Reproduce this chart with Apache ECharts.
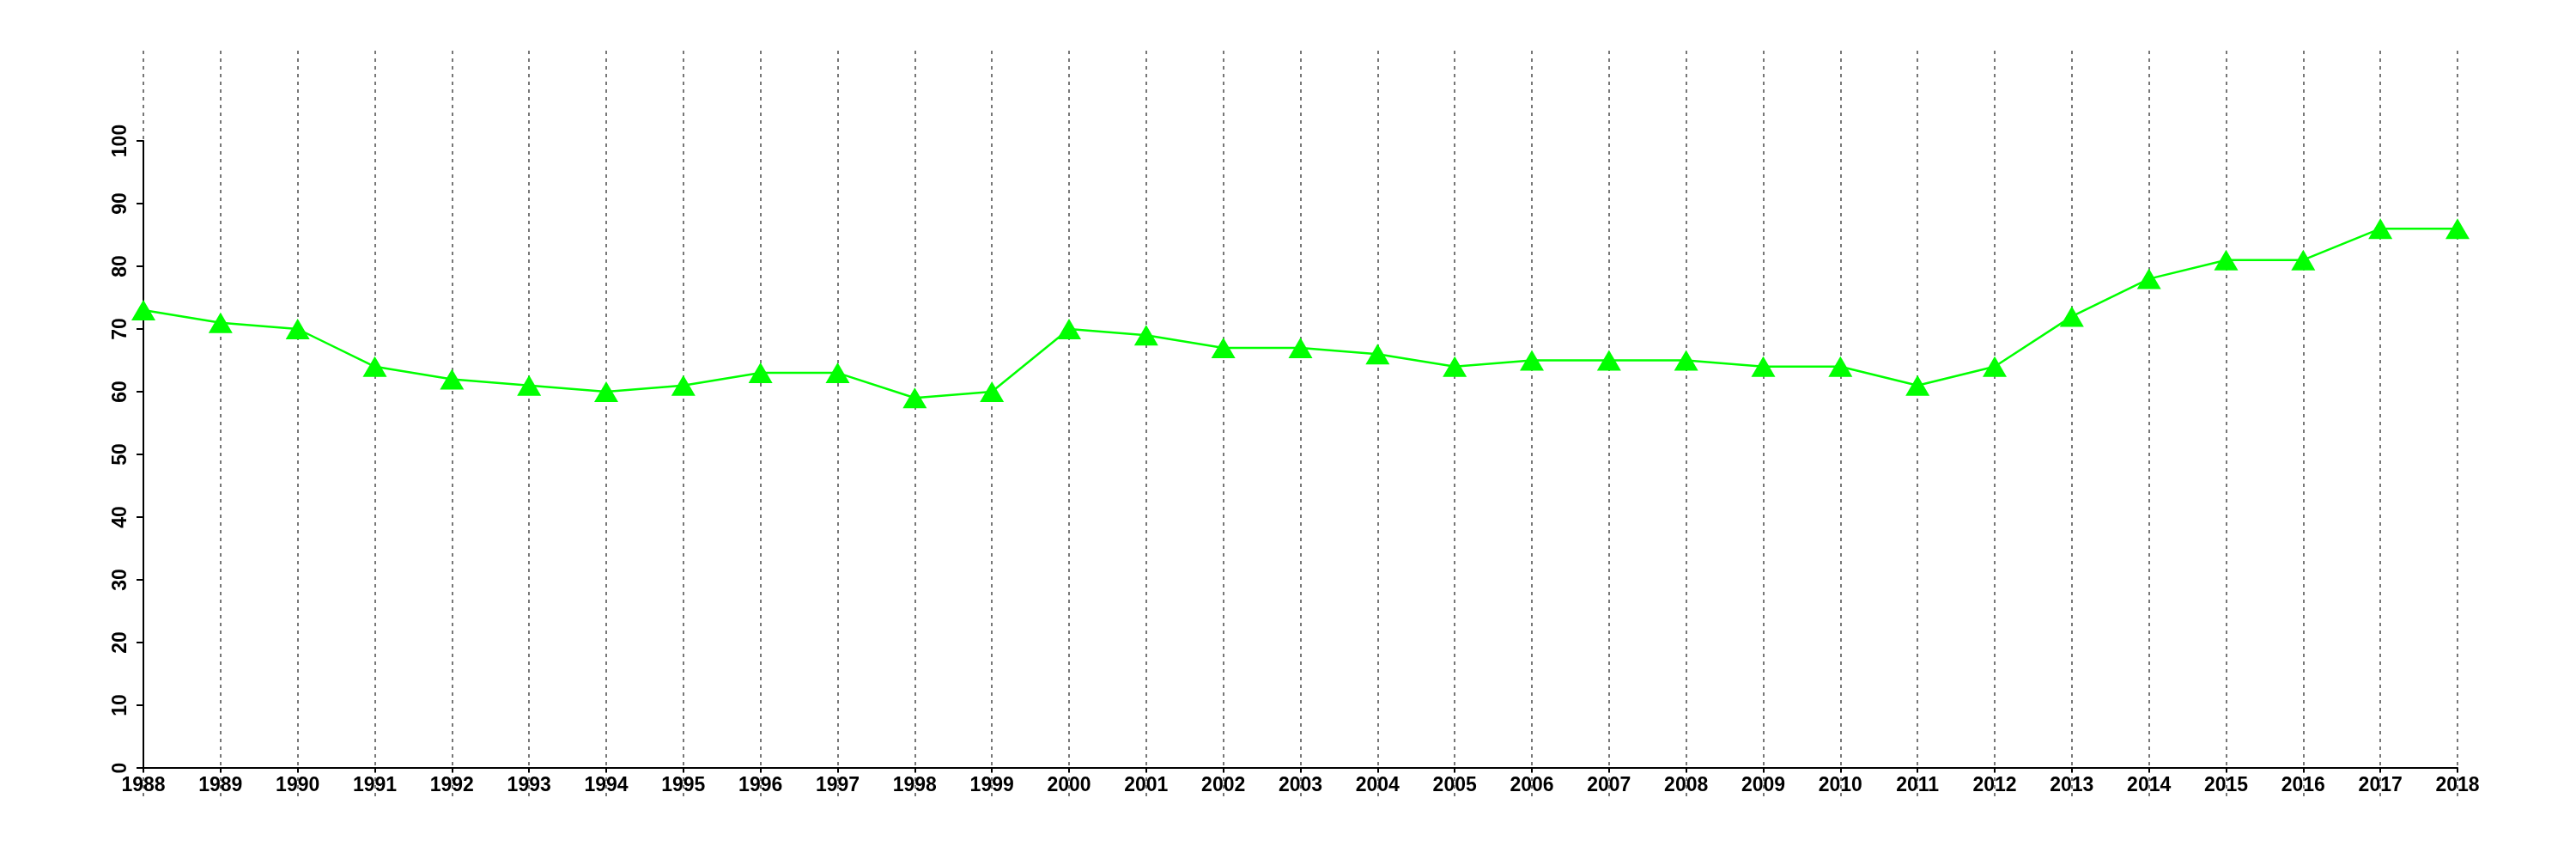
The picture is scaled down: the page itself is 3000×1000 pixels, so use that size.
<!DOCTYPE html>
<html>
<head>
<meta charset="utf-8">
<script src="https://cdn.jsdelivr.net/npm/echarts@6/dist/echarts.min.js"></script>
<style>
html,body{margin:0;padding:0;background:#fff;}
#chart{width:3000px;height:1000px;}
</style>
</head>
<body>
<div id="chart"></div>
<script>
const years = ['1988','1989','1990','1991','1992','1993','1994','1995','1996','1997','1998','1999','2000','2001','2002','2003','2004','2005','2006','2007','2008','2009','2010','2011','2012','2013','2014','2015','2016','2017','2018'];
const values = [73,71,70,64,62,61,60,61,63,63,59,60,70,69,67,67,66,64,65,65,65,64,64,61,64,72,78,81,81,86,86];
const yMin = 0, yMax = 100, yStep = 10;

const font = 'Liberation Sans';
const chart = echarts.init(document.getElementById('chart'));
chart.setOption({
  animation: false,
  backgroundColor: '#fff',
  grid: [
    {left: 167, right: 138, top: 164, bottom: 106},
    {left: 167, right: 138, top: 59, bottom: 73}
  ],
  xAxis: [
    {
      type: 'category', data: years, boundaryGap: false, gridIndex: 0,
      axisLine: {lineStyle: {color: '#000', width: 2}},
      axisTick: {show: true, length: 5, lineStyle: {color: '#000', width: 2}},
      axisLabel: {color: '#000', fontFamily: font, fontSize: 23, fontWeight: 'bold', margin: 9, interval: 0},
      splitLine: {show: false}
    },
    {
      type: 'category', data: years, boundaryGap: false, gridIndex: 1,
      axisLine: {show: false}, axisTick: {show: false}, axisLabel: {show: false},
      splitLine: {show: true, interval: 0, lineStyle: {color: '#777', width: 2, type: [4, 5]}}
    }
  ],
  yAxis: [
    {
      type: 'value', min: yMin, max: yMax, interval: yStep, gridIndex: 0,
      axisLine: {show: true, lineStyle: {color: '#000', width: 2}},
      axisTick: {show: true, length: 8, lineStyle: {color: '#000', width: 2}},
      axisLabel: {color: '#000', fontFamily: font, fontSize: 23, fontWeight: 'bold', rotate: 90, margin: 15},
      splitLine: {show: false}
    },
    {
      type: 'value', min: 0, max: 1, gridIndex: 1,
      show: false, splitLine: {show: false}
    }
  ],
  series: [
    {
      type: 'line', data: values, xAxisIndex: 0, yAxisIndex: 0,
      symbol: 'triangle', symbolSize: [28, 24],
      lineStyle: {color: '#00ff00', width: 2.5},
      itemStyle: {color: '#00ff00'},
      z: 5
    }
  ]
});
</script>
</body>
</html>
